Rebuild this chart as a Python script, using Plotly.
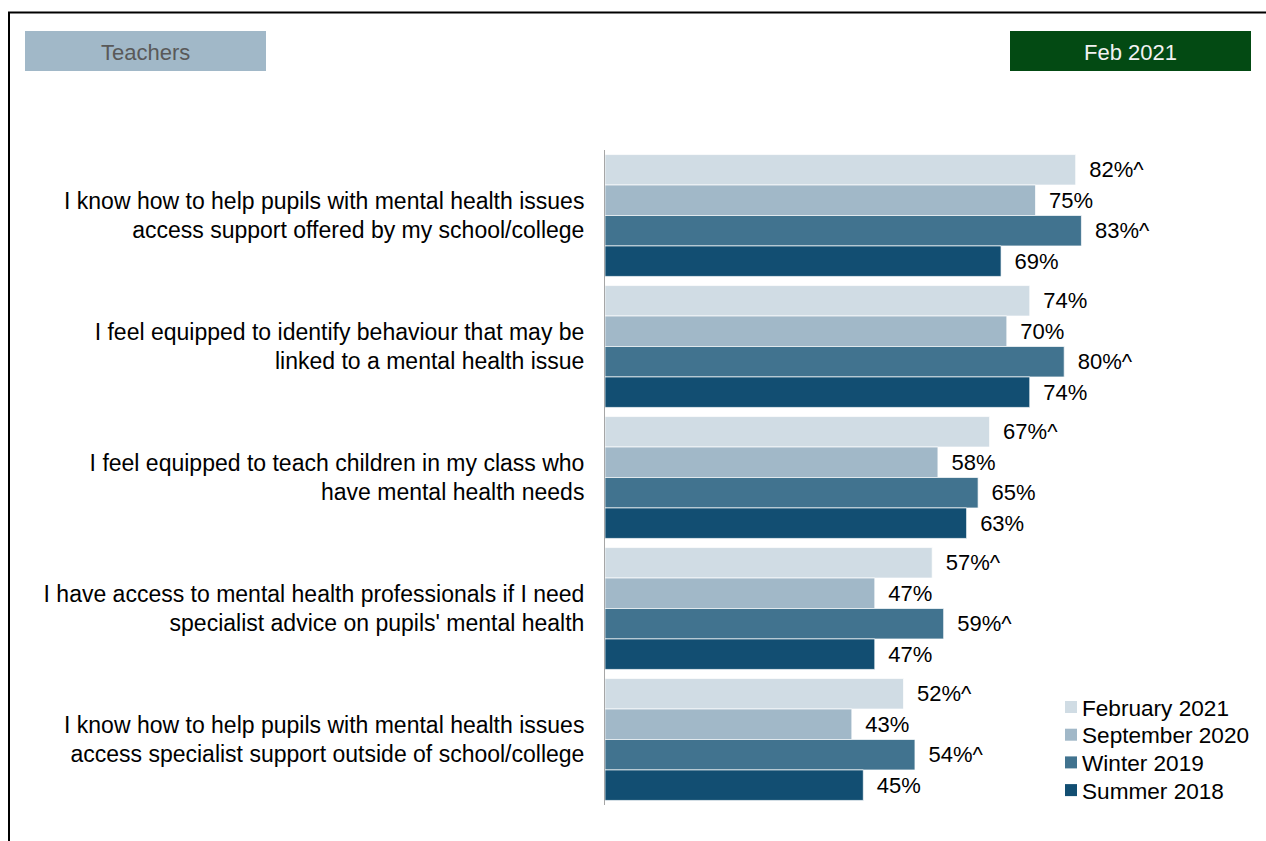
import plotly.graph_objects as go

W, H = 1266, 841

categories = [
    "I know how to help pupils with mental health issues<br>access support offered by my school/college",
    "I feel equipped to identify behaviour that may be<br>linked to a mental health issue",
    "I feel equipped to teach children in my class who<br>have mental health needs",
    "I have access to mental health professionals if I need<br>specialist advice on pupils' mental health",
    "I know how to help pupils with mental health issues<br>access specialist support outside of school/college",
]
series_names = ["February 2021", "September 2020", "Winter 2019", "Summer 2018"]
feb_2021 = [82, 74, 67, 57, 52]
sep_2020 = [75, 70, 58, 47, 43]
win_2019 = [83, 80, 65, 59, 54]
sum_2018 = [69, 74, 63, 47, 45]
feb_2021_sig = [True, False, True, True, True]
sep_2020_sig = [False, False, False, False, False]
win_2019_sig = [True, True, False, True, True]
sum_2018_sig = [False, False, False, False, False]
colors = ["#D0DCE4", "#A1B8C8", "#41738F", "#124E72"]

values = [feb_2021, sep_2020, win_2019, sum_2018]
sigs = [feb_2021_sig, sep_2020_sig, win_2019_sig, sum_2018_sig]

FONT = "Liberation Sans, Arial"

fig = go.Figure()
for name, vals, sg, col in zip(series_names, values, sigs, colors):
    fig.add_trace(go.Bar(
        y=categories, x=vals, name=name, orientation="h",
        marker=dict(color=col, line=dict(color="rgba(255,255,255,0.7)", width=1)),
        text=["\u00a0\u2009" + f"{v}%" + ("^" if s else "") for v, s in zip(vals, sg)],
        textposition="outside", cliponaxis=False,
        textfont=dict(family=FONT, size=22, color="#000000"),
        showlegend=False,
    ))

def px(x):
    return x / W

def py(y):
    return 1 - y / H

shapes = [
    dict(type="line", xref="paper", yref="paper", x0=px(8), x1=1, y0=py(12.5), y1=py(12.5),
         line=dict(color="#000000", width=2)),
    dict(type="line", xref="paper", yref="paper", x0=px(9), x1=px(9), y0=py(12), y1=0,
         line=dict(color="#000000", width=2)),
    dict(type="rect", xref="paper", yref="paper", x0=px(25), x1=px(266), y0=py(71), y1=py(31),
         fillcolor="#A1B8C8", line=dict(width=0)),
    dict(type="rect", xref="paper", yref="paper", x0=px(1010), x1=px(1251), y0=py(71), y1=py(31),
         fillcolor="#034A13", line=dict(width=0)),
]
annotations = [
    dict(text="Teachers", xref="paper", yref="paper", x=px(145.5), y=py(52),
         xanchor="center", yanchor="middle", showarrow=False,
         font=dict(family=FONT, size=22, color="#595959")),
    dict(text="Feb 2021", xref="paper", yref="paper", x=px(1130.5), y=py(52),
         xanchor="center", yanchor="middle", showarrow=False,
         font=dict(family=FONT, size=22, color="#F2F2F2")),
]

# legend (manual, to match the compact entry spacing)
legend_top, legend_step = 707, 27.7
for i, (name, col) in enumerate(zip(series_names, colors)):
    cy = legend_top + i * legend_step
    shapes.append(dict(type="rect", xref="paper", yref="paper",
                       x0=px(1065), x1=px(1077), y0=py(cy + 6), y1=py(cy - 6),
                       fillcolor=col, line=dict(width=0)))
    annotations.append(dict(text=name, xref="paper", yref="paper", x=px(1080), y=py(cy + 1),
                            xanchor="left", yanchor="middle", showarrow=False,
                            font=dict(family=FONT, size=22.6, color="#000000")))

fig.update_layout(
    width=W, height=H,
    margin=dict(l=0, r=0, t=0, b=0),
    paper_bgcolor="white", plot_bgcolor="white",
    barmode="group", bargap=0.07, bargroupgap=0,
    font=dict(family=FONT, size=22, color="#000000"),
    xaxis=dict(domain=[px(605), px(1179)], range=[0, 100], visible=False,
               showgrid=False, zeroline=False),
    yaxis=dict(domain=[py(805), py(150)], autorange="reversed",
               showgrid=False, zeroline=False, showline=True,
               linecolor="#A6A6A6", linewidth=1, ticks="",
               ticklabelstandoff=15,
               tickfont=dict(family=FONT, size=23, color="#000000")),
    showlegend=False,
    shapes=shapes,
    annotations=annotations,
)

fig.write_html("out.html")
